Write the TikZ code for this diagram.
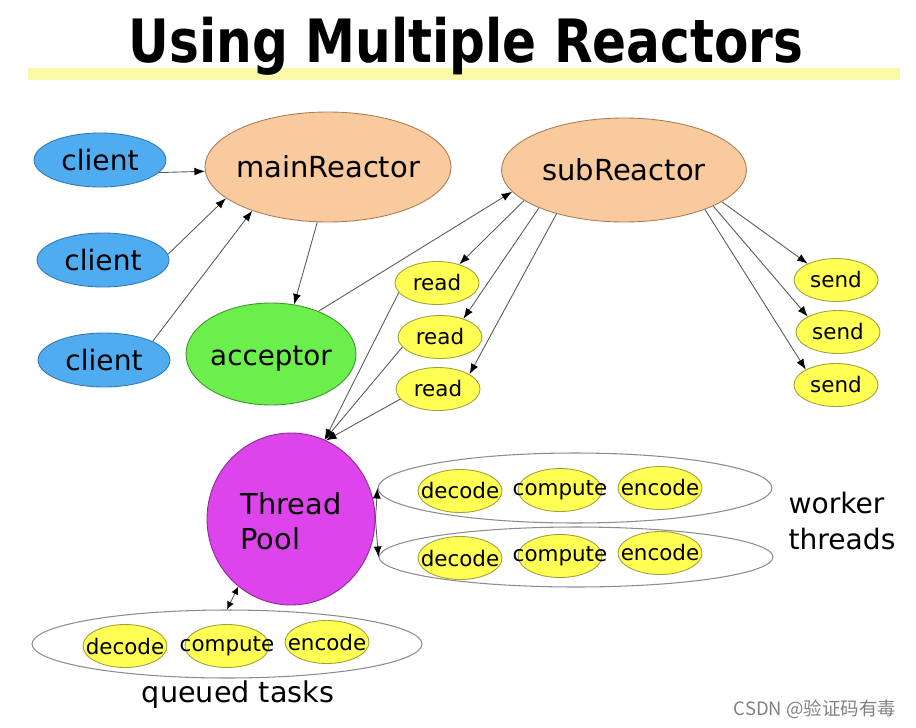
\documentclass[tikz,border=0pt]{standalone}
\usepackage{fontspec}
\setmainfont{DejaVu Sans}
\newfontfamily\titlefont[FakeStretch=0.84]{DejaVu Sans}
\newfontfamily\cjkfont{Noto Sans CJK SC}
\usepackage{xcolor}
\usepackage{tikz}
\usetikzlibrary{shapes.geometric,arrows.meta}

\definecolor{clientBlue}{RGB}{80,172,240}
\definecolor{clientEdge}{RGB}{50,120,185}
\definecolor{reactorPeach}{RGB}{248,202,158}
\definecolor{reactorEdge}{RGB}{170,125,85}
\definecolor{accGreen}{RGB}{108,238,76}
\definecolor{accEdge}{RGB}{60,150,45}
\definecolor{poolPink}{RGB}{222,68,236}
\definecolor{poolEdge}{RGB}{140,40,150}
\definecolor{taskYellow}{RGB}{255,255,84}
\definecolor{taskEdge}{RGB}{160,160,60}
\definecolor{barYellow}{RGB}{250,250,168}

% text that does not widen its ellipse
\newcommand{\nodetext}[1]{\makebox[0pt]{#1}}
% same, moved down a little
\newcommand{\lowtext}[2]{\makebox[0pt]{\raisebox{-#1}[\height][\depth]{#2}}}

\begin{document}
\begin{tikzpicture}[x=0.02cm, y=-0.02cm,
    blob/.style={ellipse, inner sep=0pt, line width=0.5pt},
    client/.style={blob, draw=clientEdge, fill=clientBlue, minimum width=2.64cm, minimum height=1.08cm, font=\fontsize{16}{19}\selectfont},
    reactor/.style={blob, draw=reactorEdge, fill=reactorPeach, minimum width=4.92cm, minimum height=2.2cm, font=\fontsize{16.5}{20}\selectfont},
    io/.style={blob, draw=taskEdge, fill=taskYellow, minimum width=1.68cm, minimum height=0.86cm, font=\fontsize{12.2}{14}\selectfont},
    group/.style={blob, draw=black!45, fill=white, line width=0.6pt},
    wire/.style={draw=black!65, line width=0.5pt, -{Latex[length=6pt,width=4.5pt,color=black]}}]
    \useasboundingbox (0,0) rectangle (916,727);

    % Title
    \fill[barYellow] (28,68) rectangle (900,80);
    \node[anchor=base, font=\titlefont\bfseries\fontsize{34}{40}\selectfont] (title) at (466,62) {Using Multiple Reactors};

    % Clients
    \node[client] (cA) at (100,160) {\nodetext{client}};
    \node[client] (cB) at (103,260) {\nodetext{client}};
    \node[client] (cC) at (104,360) {\nodetext{client}};

    % Reactors and acceptor
    \node[reactor] (mainR) at (328,167) {\nodetext{mainReactor}};
    \node[reactor, minimum width=4.9cm, minimum height=2.08cm] (subR) at (624,170) {\nodetext{subReactor}};
    \node[blob, draw=accEdge, fill=accGreen, minimum width=3.4cm, minimum height=2.04cm, font=\fontsize{15.8}{19}\selectfont] (acc) at (271,354) {\lowtext{2.5pt}{acceptor}};

    % read / send
    \node[io] (rA) at (437,283) {\nodetext{read}};
    \node[io] (rB) at (440,337) {\nodetext{read}};
    \node[io] (rC) at (438,389) {\nodetext{read}};
    \node[io] (sA) at (836,280) {\nodetext{send}};
    \node[io] (sB) at (838,332) {\nodetext{send}};
    \node[io] (sC) at (836,385) {\nodetext{send}};

    % Thread pool
    \node[blob, draw=poolEdge, fill=poolPink, minimum width=3.36cm, minimum height=3.44cm, font=\fontsize{16.4}{20}\selectfont] (pool) at (291,519)
        {\lowtext{3.5pt}{\begin{tabular}{@{}l@{}}Thread\\Pool\end{tabular}}};

    % Worker threads
    \node[group, minimum width=7.88cm, minimum height=1.4cm] (wkA) at (575,488) {};
    \node[group, minimum width=7.88cm, minimum height=1.2cm] (wkB) at (576,557) {};
    \node[io] (decA) at (460,491) {\nodetext{decode}};
    \node[io] (compA) at (560,490) {\nodetext{compute}};
    \node[io] (encA) at (660,488) {\nodetext{encode}};
    \node[io] (decB) at (460,558) {\nodetext{decode}};
    \node[io] (compB) at (560,556) {\nodetext{compute}};
    \node[io] (encB) at (660,553) {\nodetext{encode}};
    \node[align=left, font=\fontsize{16}{20}\selectfont] (wlabel) at (842,521) {worker\\threads};

    % Queued tasks
    \node[group, minimum width=7.8cm, minimum height=1.36cm] (queue) at (227,644) {};
    \node[io] (decQ) at (125,646) {\nodetext{decode}};
    \node[io] (compQ) at (227,646) {\nodetext{compute}};
    \node[io] (encQ) at (327,642) {\nodetext{encode}};
    \node[font=\fontsize{16.3}{20}\selectfont] (qlabel) at (238,695) {queued tasks};

    % Connections
    \draw[wire] (cA.-12) -- (mainR.182);
    \draw[wire] (cB.5) -- (mainR.197);
    \draw[wire] (cC.21) -- (mainR.210);
    \draw[wire] (mainR.259) -- (acc.65);
    \draw[wire] (acc.42) -- (subR.191);
    \draw[wire] (subR.197) -- (rA.40);
    \draw[wire] (subR.204) -- (rB.38);
    \draw[wire] (subR.213) -- (rC.25);
    \draw[wire] (rA.194) -- (pool.67);
    \draw[wire] (rB.195) -- (pool.67);
    \draw[wire] (rC.195) -- (pool.66);
    \draw[wire] (subR.-18) -- (sA.150);
    \draw[wire] (subR.-22) -- (sB.153);
    \draw[wire] (subR.-26) -- (sC.153);
    \draw[wire] (pool.east) -- (wkA.west);
    \draw[wire] (pool.east) -- (wkB.west);
    \draw[wire, {Latex[length=4.5pt,width=4pt,color=black]}-{Latex[length=4.5pt,width=4pt,color=black]}] (pool.232) -- (queue.north);

    % Watermark
    \node[text=black!50, font=\cjkfont\fontsize{10.5}{12}\selectfont] (mark) at (815,709) {CSDN @验证码有毒};
\end{tikzpicture}
\end{document}
